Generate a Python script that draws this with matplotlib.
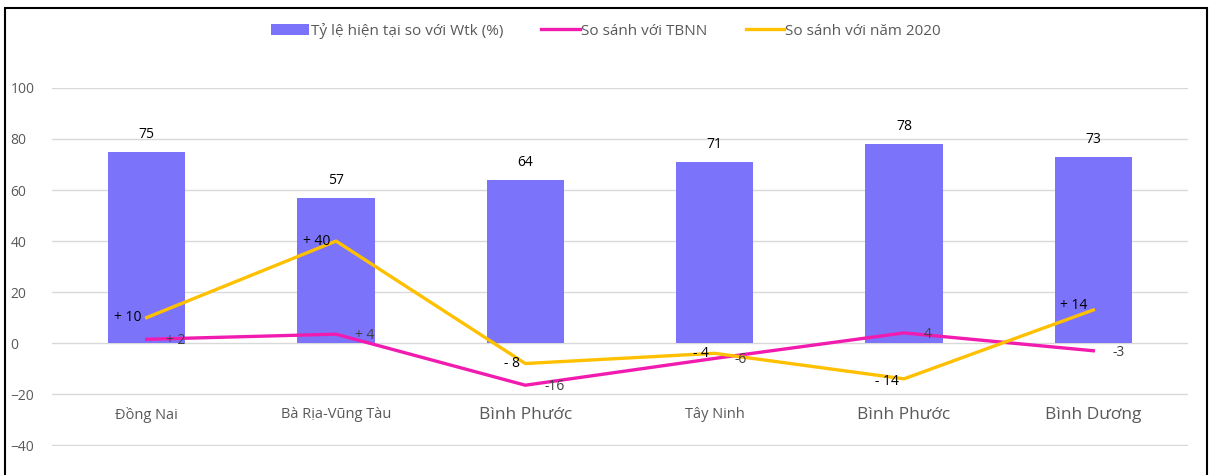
import numpy as np
import matplotlib.pyplot as plt
from matplotlib.patches import Rectangle

plt.rcParams['font.family'] = ['Open Sans', 'DejaVu Sans']

tinh = ["Đồng Nai", "Bà Rịa-Vũng Tàu", "Bình Phước", "Tây Ninh", "Bình Phước", "Bình Dương"]
ty_le = [75, 57, 64, 71, 78, 73]
so_tbnn = [1.5, 3.5, -16.5, -6, 4, -3]
nhan_tbnn = ["+ 2", "+ 4", "-16", "-6", "4", "-3"]
so_2020 = [10, 40, -8, -4, -14, 13]
nhan_2020 = ["+ 10", "+ 40", "- 8", "- 4", "- 14", "+ 14"]
co_chu = [10.5, 10.5, 12.5, 10.5, 12.5, 12.5]

c_bar = "#7B74FB"
c_pink = "#F21BB0"
c_gold = "#FFC000"

fig = plt.figure(figsize=(12.12, 4.75), dpi=100)
ax = fig.add_axes([0.0429, 0.0612, 0.9373, 0.7536])
x = np.arange(len(tinh))

b = ax.bar(x, ty_le, width=0.41, color=c_bar, zorder=2, label="Tỷ lệ hiện tại so với Wtk (%)")
l1, = ax.plot(x, so_tbnn, color=c_pink, lw=2.4, zorder=3, label="So sánh với TBNN")
l2, = ax.plot(x, so_2020, color=c_gold, lw=2.4, zorder=3, label="So sánh với năm 2020")

for i, v in enumerate(ty_le):
    ax.annotate(str(v), (x[i], v), xytext=(0, 7), textcoords="offset points",
                ha="center", va="bottom", fontsize=10, color="black", zorder=4)

for i, v in enumerate(so_tbnn):
    ax.annotate(nhan_tbnn[i], (x[i], v), xytext=(14, -1), textcoords="offset points",
                ha="left", va="center", fontsize=10, color="#404040", zorder=4)

off_2020 = [(-4, 0), (-4, 0), (-4, 0), (-4, 0), (-4, -2), (-4, 3)]
for i, v in enumerate(so_2020):
    ax.annotate(nhan_2020[i], (x[i], v), xytext=off_2020[i], textcoords="offset points",
                ha="right", va="center", fontsize=10, color="black", zorder=4)

for i, t in enumerate(tinh):
    ax.text(x[i], -28, t, ha="center", va="center", fontsize=co_chu[i], color="#595959")

ax.set_xlim(-0.5, len(tinh) - 0.5)
ax.set_ylim(-40.3, 100)
ax.set_yticks(np.arange(-40, 101, 20))
ax.yaxis.grid(True, color="#D9D9D9", lw=1, zorder=0)
ax.set_xticks([])
ax.tick_params(axis="y", length=0, labelsize=10, labelcolor="#595959", pad=30)
for lab in ax.get_yticklabels():
    lab.set_horizontalalignment("left")
for s in ax.spines.values():
    s.set_visible(False)

fig.legend([b, l1, l2], [b.get_label(), l1.get_label(), l2.get_label()],
           loc="center", bbox_to_anchor=(0.5, 0.935), ncol=3, frameon=False,
           fontsize=11, labelcolor="#595959", handlelength=2.5, handletextpad=0.1,
           columnspacing=2.5, handleheight=0.8)

fig.patches.append(Rectangle((5 / 1212, -0.1), 1202 / 1212, 1.1 - 8 / 475,
                             transform=fig.transFigure, fill=False, ec="black", lw=1.5))

fig.savefig("out.png", dpi=100)
